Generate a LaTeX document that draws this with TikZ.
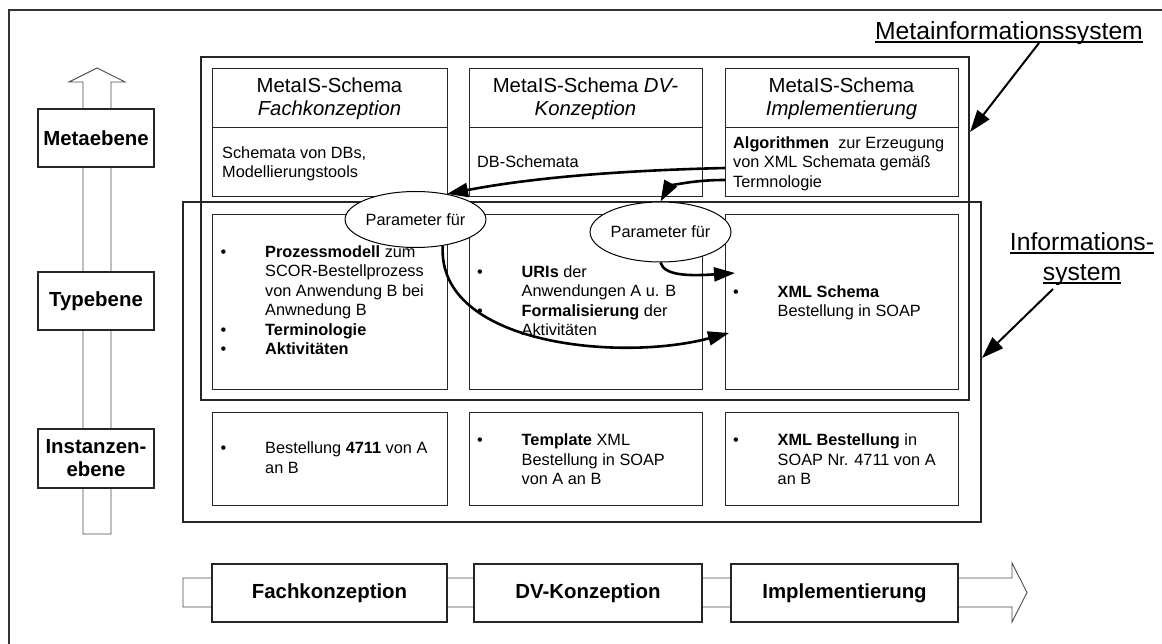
\documentclass[tikz,border=0pt]{standalone}
\usepackage{fontspec}
\setmainfont{Liberation Sans}
\usetikzlibrary{shapes.geometric,arrows.meta}
\newcommand\bodyf{\fontsize{16.3pt}{19.5pt}\selectfont}
\newcommand\hdrf{\fontsize{20.3pt}{23.5pt}\selectfont}
\newcommand\bu{\makebox[44.5pt][l]{•}}
\newcommand\nb{\hspace*{44.5pt}}
\begin{document}
\begin{tikzpicture}[x=1pt,y=-1pt,
  frame/.style={draw=black!80, line width=1.3pt},
  box/.style={draw=black!85, line width=1.4pt, fill=white, inner sep=0pt, anchor=north west},
  grp/.style={draw=black!85, line width=1.4pt, inner sep=0pt},
  hollow/.style={draw=black!70, line width=0.9pt, fill=white},
  lvl/.style={draw=black!85, line width=1.2pt, fill=white, inner sep=0pt, align=center,
              font=\bfseries\fontsize{20.4pt}{23pt}\selectfont},
  txt/.style={inner sep=0pt, anchor=base west, font=\bodyf},
  hdr/.style={inner sep=0pt, anchor=base, font=\hdrf},
  lab/.style={inner sep=0pt, anchor=base, font=\fontsize{24.7pt}{30pt}\selectfont},
  ell/.style={ellipse, draw=black, line width=1pt, fill=white, inner sep=0pt,
              minimum width=117pt, font=\bodyf},
  fat/.style={line width=2.6pt, -{Triangle[length=21pt,width=14pt]}},
  ptr/.style={line width=2pt, -{Triangle[length=22pt,width=15pt]}}
]
\useasboundingbox (0,0) rectangle (1162,644);
\draw[frame] (9,10) rectangle (1185,665);

% level axis
\draw[hollow] (83,534) -- (83,82) -- (69,82) -- (97,68) -- (125,82) -- (111,82) -- (111,534) -- cycle;
\node[lvl, minimum width=116pt, minimum height=58pt] (meta) at (96,138) {Metaebene};
\node[lvl, minimum width=116pt, minimum height=58pt] (type) at (96,301) {Typebene};
\node[lvl, minimum width=116pt, minimum height=59pt] (inst) at (96,458.5) {Instanzen-\\ebene};

% process axis
\draw[hollow] (183,578) -- (1012,578) -- (1012,563) -- (1027,592.5) -- (1012,622) -- (1012,607) -- (183,607) -- cycle;
\node[lvl, minimum width=235pt, minimum height=58pt] (fk) at (329.5,593) {Fachkonzeption};
\node[lvl, minimum width=228pt, minimum height=58pt] (dv) at (588,593) {DV-Konzeption};
\node[lvl, minimum width=227pt, minimum height=58pt] (im) at (844.5,593) {Implementierung};

% group boxes
\node[grp, minimum width=768pt, minimum height=343pt] (misbox) at (585,228.5) {};
\node[grp, minimum width=798pt, minimum height=320pt] (isbox) at (582,362) {};

% top row
\node[box, minimum width=235pt, minimum height=59pt] (h1) at (212,68) {};
\node[box, minimum width=235pt, minimum height=69pt] (b1) at (212,127) {};
\node[box, minimum width=233pt, minimum height=59pt] (h2) at (469,68) {};
\node[box, minimum width=233pt, minimum height=69pt] (b2) at (469,127) {};
\node[box, minimum width=233pt, minimum height=59pt] (h3) at (725,68) {};
\node[box, minimum width=233pt, minimum height=69pt] (b3) at (725,127) {};
% middle row
\node[box, minimum width=235pt, minimum height=175pt] (m1) at (212,214) {};
\node[box, minimum width=233pt, minimum height=175pt] (m2) at (469,214) {};
\node[box, minimum width=233pt, minimum height=175pt] (m3) at (725,214) {};
% bottom row
\node[box, minimum width=235pt, minimum height=93pt] (u1) at (212,412) {};
\node[box, minimum width=233pt, minimum height=93pt] (u2) at (469,412) {};
\node[box, minimum width=233pt, minimum height=93pt] (u3) at (725,412) {};

% headers
\node[hdr] (h1a) at (329.5,93) {MetaIS-Schema};
\node[hdr] (h1b) at (329.5,116) {\itshape Fachkonzeption};
\node[hdr] (h2a) at (585.5,93) {MetaIS-Schema \textit{DV-}};
\node[hdr] (h2b) at (585.5,116) {\itshape Konzeption};
\node[hdr] (h3a) at (841.5,93) {MetaIS-Schema};
\node[hdr] (h3b) at (841.5,116) {\itshape Implementierung};

% top bodies
\node[txt] (t1) at (222,158.5) {\begin{tabular}[t]{@{}l@{}}Schemata von DBs,\\Modellierungstools\end{tabular}};
\node[txt] (t2) at (477,167.5) {DB-Schemata};
\node[txt] (t3) at (733,148.5) {\begin{tabular}[t]{@{}l@{}}\textbf{Algorithmen}\ \ zur Erzeugung\\von XML Schemata gemäß\\Termnologie\end{tabular}};

% middle bodies
\node[txt] (mt1) at (220.5,257.5) {\begin{tabular}[t]{@{}l@{}}
\bu\textbf{Prozessmodell} zum\\
\nb SCOR-Bestellprozess\\
\nb von Anwendung B bei\\
\nb Anwnedung B\\
\bu\textbf{Terminologie}\\
\bu\textbf{Aktivitäten}\end{tabular}};
\node[txt] (mt2) at (477,277.5) {\begin{tabular}[t]{@{}l@{}}
\bu\textbf{URIs} der\\
\nb Anwendungen A u. B\\
\bu\textbf{Formalisierung} der\\
\nb Aktivitäten\end{tabular}};
\node[txt] (mt3) at (733,297.5) {\begin{tabular}[t]{@{}l@{}}
\bu\textbf{XML Schema}\\
\nb Bestellung in SOAP\end{tabular}};

% bottom bodies
\node[txt] (ut1) at (220.5,453.5) {\begin{tabular}[t]{@{}l@{}}
\bu Bestellung \textbf{4711} von A\\
\nb an B\end{tabular}};
\node[txt] (ut2) at (477,445.5) {\begin{tabular}[t]{@{}l@{}}
\bu\textbf{Template} XML\\
\nb Bestellung in SOAP\\
\nb von A an B\end{tabular}};
\node[txt] (ut3) at (733,445.5) {\begin{tabular}[t]{@{}l@{}}
\bu\textbf{XML Bestellung} in\\
\nb SOAP Nr. 4711 von A\\
\nb an B\end{tabular}};

% ellipses
\node[ell, minimum height=56pt] (p1) at (415.5,219.5) {Parameter für};
\node[ell, minimum height=60pt] (p2) at (660.5,232) {Parameter für};

% curved arrows
\coordinate (a1) at (725,168);
\coordinate (a2) at (725,180);
\coordinate (c1) at (735,273);
\coordinate (c2) at (729,333);
\draw[fat] (a1) .. controls (600,171) and (520,180) .. (p1.39);
\draw[fat] (a2) .. controls (685,180) and (668,188) .. (p2.north);
\draw[fat] (p2.south) .. controls (664,276) and (690,276) .. (c1);
\draw[fat] (p1.-44) .. controls (437,345) and (620,362) .. (c2);

% system labels
\node[lab] (mlab) at (1009,39.5) {Metainformationssystem};
\draw[line width=1.3pt] ([yshift=-2.5pt]mlab.base west) -- ([yshift=-2.5pt]mlab.base east);
\node[lab] (ilab1) at (1082,250.5) {Informations-};
\draw[line width=1.3pt] ([yshift=-2.5pt]ilab1.base west) -- ([yshift=-2.5pt]ilab1.base east);
\node[lab] (ilab2) at (1082,280.5) {system};
\draw[line width=1.3pt] ([yshift=-2.5pt]ilab2.base west) -- ([yshift=-2.5pt]ilab2.base east);

\coordinate (m1s) at (1039,43);
\coordinate (m1e) at (970,132);
\coordinate (i1s) at (1053,289);
\coordinate (i1e) at (982,358);
\draw[ptr] (m1s) -- (m1e);
\draw[ptr] (i1s) -- (i1e);
\end{tikzpicture}
\end{document}
